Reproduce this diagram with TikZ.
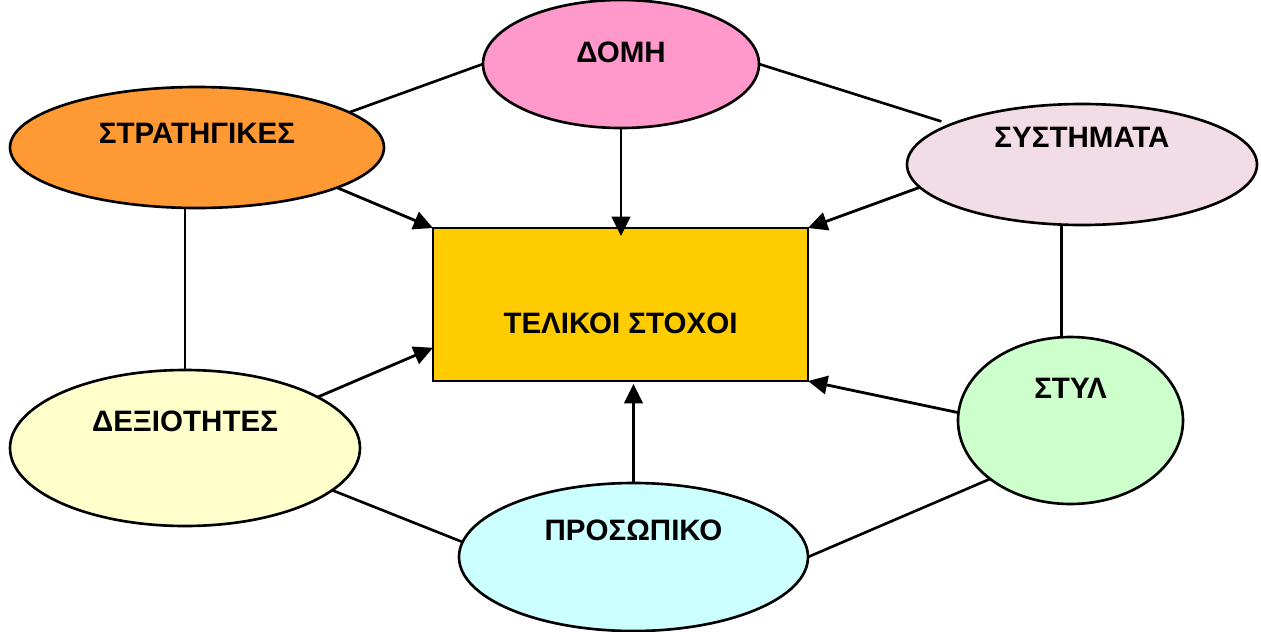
\documentclass[tikz,border=0pt]{standalone}
\usepackage{fontspec}
\setmainfont{Liberation Sans}
\usetikzlibrary{shapes.geometric,arrows.meta}
\definecolor{domicol}{HTML}{FF99CC}
\definecolor{stratcol}{HTML}{FF9933}
\definecolor{systcol}{RGB}{242,220,230}
\definecolor{telcol}{HTML}{FFCC00}
\definecolor{dexcol}{HTML}{FFFFCC}
\definecolor{stylcol}{HTML}{CCFFCC}
\definecolor{proscol}{HTML}{CCFFFF}
\begin{document}
\begin{tikzpicture}[font=\fontsize{16.8}{20}\selectfont\bfseries,
  bubble/.style={ellipse,draw,line width=1.5pt,inner sep=0pt,outer sep=0pt},
  goalbox/.style={rectangle,draw,line width=1.5pt,inner sep=0pt,outer sep=0pt,
    minimum width=7.5cm,minimum height=3.06cm},
  link/.style={line width=1.5pt},
  arr/.style={line width=1.6pt,-{Triangle[length=11pt,width=10.5pt]}}]
\useasboundingbox (0,0) rectangle (25.22,-12.64);
\node [goalbox,fill=telcol,label={[yshift=-0.37cm]center:ΤΕΛΙΚΟΙ ΣΤΟΧΟΙ}] (telos) at (12.41,-6.09) {};
\node [bubble,fill=domicol,minimum width=5.52cm,minimum height=2.56cm,
  label={[yshift=0.23cm]center:ΔΟΜΗ}] (domi) at (12.42,-1.28) {};
\node [bubble,fill=stratcol,minimum width=7.48cm,minimum height=2.42cm,
  label={[yshift=0.29cm]center:ΣΤΡΑΤΗΓΙΚΕΣ}] (strat) at (3.94,-2.95) {};
\node [bubble,fill=systcol,minimum width=7cm,minimum height=2.42cm,
  label={[yshift=0.55cm]center:ΣΥΣΤΗΜΑΤΑ}] (syst) at (21.64,-3.29) {};
\node [bubble,fill=dexcol,minimum width=7cm,minimum height=3.12cm,
  label={[yshift=0.54cm]center:ΔΕΞΙΟΤΗΤΕΣ}] (dexi) at (3.70,-8.96) {};
\node [bubble,fill=stylcol,minimum width=4.5cm,minimum height=3.34cm,
  label={[yshift=0.65cm]center:ΣΤΥΛ}] (styl) at (21.41,-8.41) {};
\node [bubble,fill=proscol,minimum width=6.98cm,minimum height=2.96cm,
  label={[yshift=0.54cm]center:ΠΡΟΣΩΠΙΚΟ}] (pros) at (12.67,-11.14) {};

\draw [link] (strat.13.5) -- (domi.west);
\draw [link,shorten >=0.2cm] (domi.east) -- (syst.163);
\draw [link] (dexi.north) -- (dexi.north |- strat.south);
\draw [link] (styl.96.5) -- (styl.96.5 |- syst.south);
\draw [link] (dexi.-16.3) -- (pros.175);
\draw [link] (pros.east) -- (styl.216.8);

\draw [arr,shorten >=-0.16cm] (domi.south) -- (domi.south |- telos.north);
\draw [arr] (strat.-16.2) -- (telos.north west);
\draw [arr] (syst.-172.2) -- (telos.north east);
\draw [arr] (dexi.21.5) -- (telos.193);
\draw [arr] (styl.176) -- (telos.south east);
\draw [arr,shorten >=0.06cm] (pros.north) -- (pros.north |- telos.south);
\end{tikzpicture}
\end{document}
